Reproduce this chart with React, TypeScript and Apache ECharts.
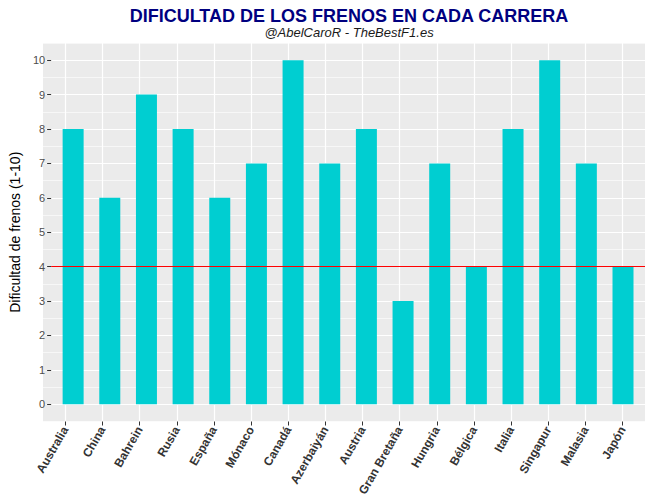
import React, { useEffect, useRef } from 'react';
import * as echarts from 'echarts';

const categories = [
  'Australia', 'China', 'Bahrein', 'Rusia', 'España', 'Mónaco', 'Canadá', 'Azerbaiyán',
  'Austria', 'Gran Bretaña', 'Hungria', 'Bélgica', 'Italia', 'Singapur', 'Malasia', 'Japón',
];
const difficulty = [8, 6, 9, 8, 6, 7, 10, 7, 8, 3, 7, 4, 8, 10, 7, 4];
const threshold = 4;
const yTicks = [0, 10];

const titleText = 'DIFICULTAD DE LOS FRENOS EN CADA CARRERA';
const subtitleText = '@AbelCaroR - TheBestF1.es';
const yName = 'Dificultad de frenos (1-10)';

// panel geometry (ggplot-like expansion)
const PL = 43;
const PR = 5;
const PT = 43;
const PB = 82.5;
const W = 650;
const H = 504;
const n = categories.length;
const unit = (W - PL - PR) / (n + 0.2); // discrete expand of 0.6 each side
const yUnit = (H - PT - PB) / (yTicks[1] - yTicks[0] + 1); // 0.5 expand each side

const font = 'Liberation Sans, Arial, sans-serif';

const App = () => {
  const chartRef = useRef<HTMLDivElement>(null);

  useEffect(() => {
    if (!chartRef.current) return;
    const chart = echarts.init(chartRef.current, null, { renderer: 'svg' });

    const option = {
      animation: false,
      backgroundColor: '#ffffff',
      title: {
        text: titleText,
        subtext: subtitleText,
        left: PL + (W - PL - PR) / 2,
        textAlign: 'center',
        top: 2,
        itemGap: 1,
        textStyle: { fontFamily: font, fontSize: 18, fontWeight: 'bold', color: '#000080' },
        subtextStyle: { fontFamily: font, fontSize: 13, fontStyle: 'italic', color: '#1a1a1a' },
      },
      grid: [
        // panel + minor lines
        { left: PL, right: PR, top: PT, bottom: PB, show: true, backgroundColor: '#EBEBEB', borderWidth: 0 },
        // major horizontal lines, y labels, bars
        { left: PL, right: PR, top: PT + yUnit / 2, bottom: PB + yUnit / 2 },
        // category labels + vertical lines
        { left: PL + 0.6 * unit, right: PR + 0.6 * unit, top: PT, bottom: PB },
      ],
      xAxis: [
        { gridIndex: 0, type: 'value', min: 0, max: 1, show: false },
        { gridIndex: 1, type: 'value', min: 0.4, max: n + 0.6, show: false },
        {
          gridIndex: 2,
          type: 'category',
          data: categories,
          boundaryGap: false,
          axisLine: { show: false },
          axisTick: { show: true, length: 4, lineStyle: { color: '#333333', width: 1 } },
          axisLabel: {
            interval: 0,
            rotate: 60,
            margin: 6,
            fontFamily: font,
            fontSize: 12,
            fontWeight: 'bold',
            color: '#333333',
          },
          splitLine: { show: true, lineStyle: { color: '#ffffff', width: 1.2 } },
        },
      ],
      yAxis: [
        {
          gridIndex: 0,
          type: 'value',
          min: yTicks[0] - 0.5,
          max: yTicks[1] + 0.5,
          interval: 0.5,
          axisLine: { show: false },
          axisTick: { show: false },
          axisLabel: { show: false },
          splitLine: { show: true, lineStyle: { color: '#ffffff', width: 0.6 } },
        },
        {
          gridIndex: 1,
          type: 'value',
          min: yTicks[0],
          max: yTicks[1],
          interval: 1,
          name: yName,
          nameLocation: 'middle',
          nameGap: 23,
          nameTextStyle: { fontFamily: font, fontSize: 14, color: '#000000' },
          axisLine: { show: false },
          axisTick: { show: true, length: 4, lineStyle: { color: '#333333', width: 1 } },
          axisLabel: { margin: 6, fontFamily: font, fontSize: 11, color: '#4D4D4D' },
          splitLine: { show: true, lineStyle: { color: '#ffffff', width: 1.2 } },
        },
        { gridIndex: 2, type: 'value', min: 0, max: 1, show: false },
      ],
      series: [
        {
          type: 'bar',
          xAxisIndex: 1,
          yAxisIndex: 1,
          barWidth: 21,
          itemStyle: { color: '#00CED1' },
          data: difficulty.map((v, i) => [i + 1, v]),
          markLine: {
            silent: true,
            symbol: 'none',
            label: { show: false },
            lineStyle: { color: '#FF0000', width: 1, type: 'solid' },
            data: [{ yAxis: threshold }],
          },
        },
      ],
    };

    chart.setOption(option);
    return () => chart.dispose();
  }, []);

  return (
    <div
      ref={chartRef}
      style={{ position: 'absolute', left: 0, top: 0, width: W + 'px', height: H + 'px' }}
    />
  );
};

export default App;
